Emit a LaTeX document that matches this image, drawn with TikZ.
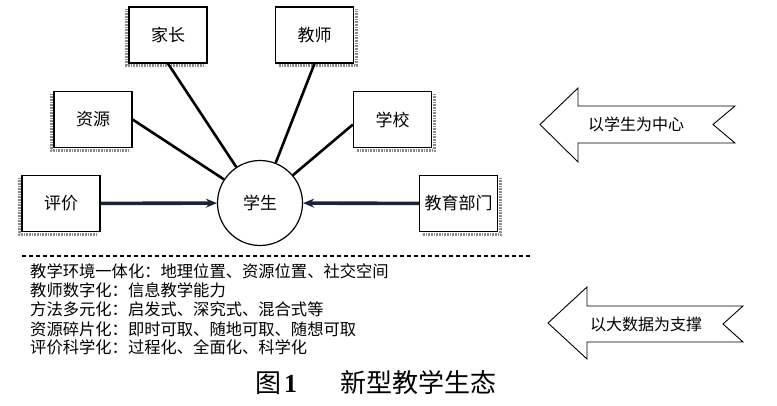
\documentclass[tikz,border=0pt]{standalone}
\usepackage{fontspec}
\setmainfont{Noto Sans CJK SC}
\newfontfamily\capnum{Liberation Serif}
\usetikzlibrary{arrows.meta}
\definecolor{navy}{RGB}{25,35,60}
\tikzset{
  box/.style={draw=black, line width=1.2pt, fill=white, minimum width=78pt, minimum height=56pt, inner sep=0pt, font=\fontsize{17pt}{20pt}\selectfont},
  shade/.style={draw=black!45, line width=3pt, dash pattern=on 0.8pt off 0.8pt},
  spoke/.style={draw=black, line width=2.6pt},
  feed/.style={draw=navy, line width=3.6pt, -{Stealth[length=11pt,width=9pt]}},
  listtxt/.style={anchor=west, inner sep=0pt, font=\fontsize{16.3pt}{19pt}\selectfont},
  bigarrow/.style={draw=black, line width=0.9pt, fill=white},
  arrtxt/.style={inner sep=0pt, font=\fontsize{16pt}{19pt}\selectfont},
  captxt/.style={inner sep=0pt, font=\fontsize{26pt}{30pt}\selectfont},
}
\begin{document}
\begin{tikzpicture}[x=1pt,y=-1pt]
\useasboundingbox[fill=white] (0,0) rectangle (777,405);
% nodes
\node[box] (jz) at (168,35) {家长};
\node[box] (js) at (314.5,35) {教师};
\node[box] (zy) at (93,119.5) {资源};
\node[box] (xx) at (392.5,119.5) {学校};
\node[box] (pj) at (61,203.5) {评价};
\node[box] (jy) at (458.5,203.5) {教育部门};
\node[draw=black, line width=1.2pt, circle, minimum size=85pt, inner sep=0pt, font=\fontsize{17pt}{20pt}\selectfont] (stu) at (260,203) {学生};
% shadows (left group: left+bottom, right group: right+bottom)
\foreach \n in {jz,zy,pj}{
  \draw[shade] ([xshift=-2pt,yshift=-3pt]\n.north west) -- ([xshift=-2pt,yshift=-2pt]\n.south west) -- ([xshift=-3pt,yshift=-2pt]\n.south east);
}
\foreach \n in {js,xx,jy}{
  \draw[shade] ([xshift=2pt,yshift=-3pt]\n.north east) -- ([xshift=2pt,yshift=-2pt]\n.south east) -- ([xshift=3pt,yshift=-2pt]\n.south west);
}
% connectors
\draw[spoke] (jz.south) -- (stu);
\draw[spoke] (js.south) -- (stu);
\draw[spoke] (zy.east) -- (stu);
\draw[spoke] ([yshift=-5pt]xx.west) -- (stu);
\draw[feed] (pj) -- (stu);
\draw[feed] (jy) -- (stu);
% dashed separator
\coordinate (d1) at (22,256);
\coordinate (d2) at (531,256);
\draw[line width=1.4pt, dash pattern=on 4pt off 3pt] (d1) -- (d2);
% list
\node[listtxt] (l1) at (30,271) {教学环境一体化：地理位置、资源位置、社交空间};
\node[listtxt] (l2) at (30,290) {教师数字化：信息教学能力};
\node[listtxt] (l3) at (30,309.5) {方法多元化：启发式、深究式、混合式等};
\node[listtxt] (l4) at (30,329) {资源碎片化：即时可取、随地可取、随想可取};
\node[listtxt] (l5) at (30,347.5) {评价科学化：过程化、全面化、科学化};
% big arrows
\draw[bigarrow] (540,124.5) -- (578,88) -- (578,106) -- (735,106) -- (713,124.5) -- (735,143) -- (578,143) -- (578,162) -- cycle;
\node[arrtxt] (a1) at (636,124.5) {以学生为中心};
\draw[bigarrow] (548,323) -- (587,287) -- (587,306) -- (743,306) -- (723,324) -- (743,342) -- (587,342) -- (587,359) -- cycle;
\node[arrtxt] (a2) at (646,324) {以大数据为支撑};
% caption
\node[captxt] (c1) at (268,383) {图};
\node[captxt, font=\fontsize{26pt}{30pt}\selectfont\capnum\bfseries] (c2) at (290.5,384) {1};
\node[captxt] (c3) at (418.5,383) {新型教学生态};
\end{tikzpicture}
\end{document}
